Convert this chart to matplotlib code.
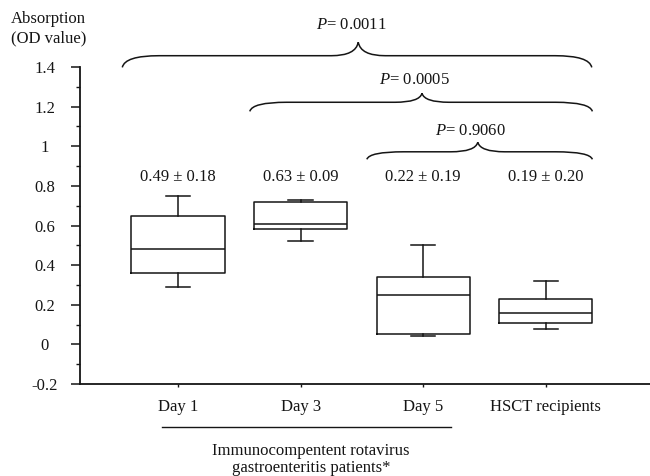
import numpy as np
import matplotlib
matplotlib.use("Agg")
import matplotlib.pyplot as plt
from matplotlib.path import Path
from matplotlib.patches import PathPatch

plt.rcParams["font.family"] = ["Liberation Serif", "DejaVu Serif"]
plt.rcParams["mathtext.fontset"] = "custom"
plt.rcParams["mathtext.rm"] = "Liberation Serif"
plt.rcParams["mathtext.it"] = "Liberation Serif:italic"

# Group names and box-plot summaries (OD values)
categories = ["Day 1", "Day 3", "Day 5", "HSCT recipients"]
whisker_low = [0.29, 0.52, 0.04, 0.08]
quartile_1 = [0.36, 0.58, 0.05, 0.11]
medians = [0.48, 0.61, 0.25, 0.16]
quartile_3 = [0.65, 0.72, 0.34, 0.23]
whisker_high = [0.75, 0.73, 0.50, 0.32]

# Mean +/- SD shown above each box
means = [0.49, 0.63, 0.22, 0.19]
sds = [0.18, 0.09, 0.19, 0.20]

# Pairwise comparisons: (first group index, last group index, P value)
comparisons = [(0, 3, "0.0011"), (1, 3, "0.0005"), (2, 3, "0.9060")]

y_ticks = [-0.2, 0, 0.2, 0.4, 0.6, 0.8, 1, 1.2, 1.4]
y_tick_labels = ["-0.2", "0", "0.2", "0.4", "0.6", "0.8", "1", "1.2", "1.4"]

W, H = 650, 476
fig = plt.figure(figsize=(W / 100, H / 100), dpi=100)
ax = fig.add_axes([80 / W, 92 / H, 1 - 80 / W, (384 - 67) / H])

ink = "#151515"
positions = np.arange(1, len(categories) + 1)
stats = [
    dict(whislo=lo, q1=a, med=m, q3=b, whishi=hi, label=c)
    for lo, a, m, b, hi, c in zip(whisker_low, quartile_1, medians,
                                  quartile_3, whisker_high, categories)
]
line = dict(color=ink, linewidth=1.1)
ax.bxp(stats, positions=positions, widths=0.76, capwidths=0.2,
       showfliers=False, boxprops=line, whiskerprops=line, capprops=line,
       medianprops=line, manage_ticks=False)

ax.set_xlim(0.2, 4.85)
ax.set_ylim(-0.2, 1.4)
for s in ("top", "right"):
    ax.spines[s].set_visible(False)
for s in ("left", "bottom"):
    ax.spines[s].set_linewidth(1.3)
    ax.spines[s].set_color(ink)

ax.set_yticks(y_ticks)
ax.set_yticklabels(y_tick_labels)
ax.set_yticks(np.arange(-0.1, 1.4, 0.2), minor=True)
ax.tick_params(axis="y", which="major", length=6.5, width=1.1, pad=19,
               labelsize=12, colors=ink)
ax.tick_params(axis="y", which="minor", length=3, width=1.0, colors=ink)
for lab in ax.get_yticklabels():
    lab.set_horizontalalignment("center")

ax.set_xticks(positions)
ax.set_xticklabels(categories)
ax.tick_params(axis="x", which="major", length=2.5, width=1.0, pad=8,
               labelsize=12, colors=ink)

# Mean +/- SD labels
for x, m, s in zip(positions, means, sds):
    ax.text(x, 0.845, f"{m:.2f} \u00b1 {s:.2f}", ha="center", va="center",
            fontsize=12, color=ink)


def curly_brace(ax, x0, x1, xm, y_tip, y_flat, y_peak, d_end=0.3, d_mid=0.22):
    verts = [
        (x0, y_tip), (x0 + 0.02, y_flat), (x0 + d_end, y_flat),
        (xm - d_mid, y_flat), (xm - 0.02, y_flat), (xm, y_peak),
        (xm + 0.02, y_flat), (xm + d_mid, y_flat),
        (x1 - d_end, y_flat), (x1 - 0.02, y_flat), (x1, y_tip),
    ]
    codes = [Path.MOVETO, Path.CURVE3, Path.CURVE3,
             Path.LINETO, Path.CURVE3, Path.CURVE3,
             Path.CURVE3, Path.CURVE3,
             Path.LINETO, Path.CURVE3, Path.CURVE3]
    ax.add_patch(PathPatch(Path(verts, codes), fill=False, edgecolor=ink,
                           linewidth=1.1, clip_on=False))


brace_geom = [
    # left x, right x, middle x, tip y, flat y, peak y, label y
    (0.545, 4.375, 2.47, 1.398, 1.457, 1.525, 1.61),
    (1.585, 4.38, 2.99, 1.176, 1.222, 1.267, 1.333),
    (2.54, 4.38, 3.445, 0.934, 0.972, 1.02, 1.075),
]
for (i, j, p), (x0, x1, xm, yt, yf, yp, yl) in zip(comparisons, brace_geom):
    curly_brace(ax, x0, x1, xm, yt, yf, yp)
    ax.text(xm - 0.06, yl, rf"$\mathit{{P}}$= {p}", ha="center",
            va="center", fontsize=12, color=ink, clip_on=False)

# Grouping line and caption under the first three categories
ax.plot([0.87, 3.23], [-0.417, -0.417], color=ink, linewidth=1.0,
        clip_on=False)
fig.text(311 / W, 1 - 451 / H, "Immunocompentent rotavirus", ha="center",
         va="center", fontsize=12, color=ink)
fig.text(311 / W, 1 - 468 / H, "gastroenteritis patients*", ha="center",
         va="center", fontsize=12, color=ink)

# Y-axis title
fig.text(11 / W, 1 - 19 / H, "Absorption", ha="left", va="center",
         fontsize=12, color=ink)
fig.text(11 / W, 1 - 38 / H, "(OD value)", ha="left", va="center",
         fontsize=12, color=ink)

fig.savefig("out.png", dpi=100)
